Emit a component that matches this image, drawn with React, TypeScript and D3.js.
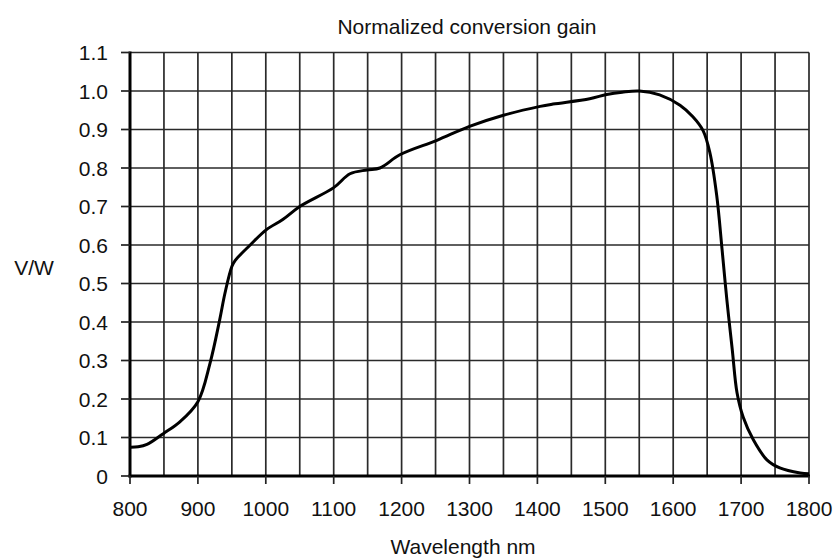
import React from "react";
import * as d3 from "d3";

const wavelengths = [800, 812, 825, 849, 873, 900, 918, 932, 940, 950, 955, 977, 1001, 1025, 1050, 1100, 1124, 1149, 1168, 1198, 1252, 1300, 1350, 1404, 1423, 1477, 1502, 1525, 1550, 1580, 1610, 1629, 1644, 1654, 1664, 1672, 1679, 1687, 1694, 1703, 1718, 1738, 1757, 1787, 1800];
const gain = [0.075, 0.076, 0.082, 0.11, 0.14, 0.193, 0.294, 0.405, 0.476, 0.544, 0.56, 0.6, 0.64, 0.666, 0.7, 0.749, 0.785, 0.795, 0.8, 0.835, 0.872, 0.908, 0.937, 0.96, 0.966, 0.98, 0.991, 0.997, 1.0, 0.99, 0.963, 0.933, 0.897, 0.84, 0.73, 0.588, 0.458, 0.328, 0.216, 0.153, 0.094, 0.042, 0.021, 0.008, 0.006];

const xTicks = [800, 900, 1000, 1100, 1200, 1300, 1400, 1500, 1600, 1700, 1800];
const yTicks = [0, 0.1, 0.2, 0.3, 0.4, 0.5, 0.6, 0.7, 0.8, 0.9, 1.0, 1.1];
const xGrid = d3.range(800, 1801, 50);

const title = "Normalized conversion gain";
const xLabel = "Wavelength nm";
const yLabel = "V/W";

export default function App() {
  const W = 840, H = 560;
  const x = d3.scaleLinear().domain([800, 1800]).range([130, 809]);
  const y = d3.scaleLinear().domain([0, 1.1]).range([476, 52.5]);
  const pts: [number, number][] = wavelengths.map((w, i) => [w, gain[i]]);
  const line = d3.line<[number, number]>().x(d => x(d[0])).y(d => y(d[1])).curve(d3.curveCatmullRom.alpha(0.5));
  const font = "'Liberation Sans', Arial, sans-serif";
  const fmt = (v: number) => (v === 0 ? "0" : v.toFixed(1));
  return (
    <svg width={W} height={H} style={{ position: "absolute", left: 0, top: 0, background: "#fff" }}>
      <rect width={W} height={H} fill="#fff" />
      {xGrid.map(g => (
        <line key={"xg" + g} x1={x(g)} x2={x(g)} y1={y(0)} y2={y(1.1)} stroke="#2a2a2a" strokeWidth={1.7} />
      ))}
      {yTicks.map(t => (
        <line key={"yg" + t} x1={x(800)} x2={x(1800)} y1={y(t)} y2={y(t)} stroke="#2a2a2a" strokeWidth={1.7} />
      ))}
      <line x1={x(800)} x2={x(800)} y1={y(0) + 1.5} y2={y(1.1) - 1} stroke="#000" strokeWidth={3} />
      <line x1={x(800) - 1.5} x2={x(1800) + 1} y1={y(0)} y2={y(0)} stroke="#000" strokeWidth={3} />
      {yTicks.map(t => (
        <line key={"yt" + t} x1={x(800) - 9} x2={x(800)} y1={y(t)} y2={y(t)} stroke="#222" strokeWidth={1.7} />
      ))}
      {xTicks.map(t => (
        <line key={"xt" + t} x1={x(t)} x2={x(t)} y1={y(0)} y2={y(0) + 8} stroke="#222" strokeWidth={1.7} />
      ))}
      <path d={line(pts) || ""} fill="none" stroke="#000" strokeWidth={3} strokeLinejoin="round" />
      {yTicks.map(t => (
        <text key={"yl" + t} x={108} y={y(t)} dy="0.36em" textAnchor="end" fontFamily={font} fontSize={21} fill="#111">
          {fmt(t)}
        </text>
      ))}
      {xTicks.map(t => (
        <text key={"xl" + t} x={x(t)} y={516} textAnchor="middle" fontFamily={font} fontSize={21} fill="#111">
          {t}
        </text>
      ))}
      <text x={467} y={34} textAnchor="middle" fontFamily={font} fontSize={21} fill="#111">{title}</text>
      <text x={463} y={554} textAnchor="middle" fontFamily={font} fontSize={21} fill="#111">{xLabel}</text>
      <text x={34} y={275} textAnchor="middle" fontFamily={font} fontSize={21} fill="#111">{yLabel}</text>
    </svg>
  );
}
